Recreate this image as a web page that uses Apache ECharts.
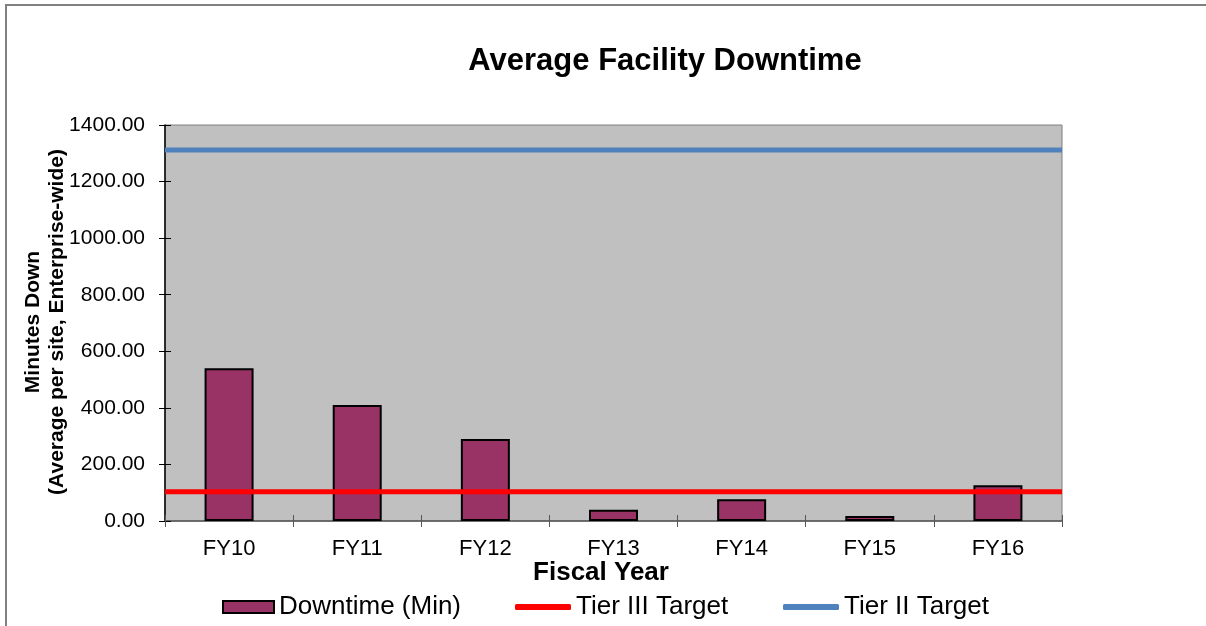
<!DOCTYPE html>
<html>
<head>
<meta charset="utf-8">
<script src="https://cdn.jsdelivr.net/npm/echarts@6/dist/echarts.min.js"></script>
<style>
html,body{margin:0;padding:0;background:#fff;}
#chart{width:1206px;height:626px;}
</style>
</head>
<body>
<div id="chart"></div>
<script>
const categories = ['FY10','FY11','FY12','FY13','FY14','FY15','FY16'];
const downtime = [540, 410, 290, 40, 77, 18, 126];
const tierIII = [103, 103, 103, 103, 103, 103, 103];
const tierII = [1312, 1312, 1312, 1312, 1312, 1312, 1312];
const yTicks = {min: 0, max: 1400, interval: 200};

const FONT = '"Liberation Sans", Arial, sans-serif';
const chart = echarts.init(document.getElementById('chart'));

const legendBase = {
  orient: 'horizontal', top: 594, itemGap: 0, padding: 0,
  textStyle: {fontFamily: FONT, fontSize: 26, color: '#000'}
};

chart.setOption({
  animation: false,
  backgroundColor: '#fff',
  textStyle: {fontFamily: FONT},
  graphic: [
    {type: 'rect', shape: {x: 6, y: 5, width: 1230, height: 660},
     style: {fill: 'none', stroke: '#808080', lineWidth: 2}, z: -1},
    {type: 'text', x: 665, y: 61,
     style: {text: 'Average Facility Downtime', fontFamily: FONT, fontSize: 31, fontWeight: 'bold',
             fill: '#000', textAlign: 'center', textVerticalAlign: 'middle'}},
    {type: 'text', x: 601, y: 573,
     style: {text: 'Fiscal Year', fontFamily: FONT, fontSize: 26, fontWeight: 'bold',
             fill: '#000', textAlign: 'center', textVerticalAlign: 'middle'}},
    {type: 'text', x: 45, y: 322, rotation: Math.PI / 2,
     style: {text: 'Minutes Down\n(Average per site, Enterprise-wide)', fontFamily: FONT, fontSize: 21,
             fontWeight: 'bold', lineHeight: 24, fill: '#000', textAlign: 'center', textVerticalAlign: 'middle'}}
  ],
  grid: {left: 165, top: 125, right: 144, bottom: 105, show: true,
         backgroundColor: '#C0C0C0', borderColor: '#808080', borderWidth: 1},
  legend: [
    Object.assign({}, legendBase, {data: [{name: 'Downtime (Min)', icon: 'rect'}], left: 222, itemWidth: 51, itemHeight: 12,
      itemStyle: {borderColor: '#000', borderWidth: 2}}),
    Object.assign({}, legendBase, {data: [{name: 'Tier III Target', icon: 'roundRect'}], left: 515, itemWidth: 56, itemHeight: 6,
      itemStyle: {color: '#FF0000', borderWidth: 0}}),
    Object.assign({}, legendBase, {data: [{name: 'Tier II Target', icon: 'roundRect'}], left: 783, itemWidth: 56, itemHeight: 6,
      itemStyle: {color: '#4F81BD', borderWidth: 0}})
  ],
  xAxis: [
    {type: 'category', data: categories, boundaryGap: true, position: 'bottom',
     axisLine: {show: true, lineStyle: {color: '#555', width: 1.5}},
     axisTick: {show: true, inside: false, length: 6, lineStyle: {color: '#555'}},
     axisLabel: {margin: 17, fontFamily: FONT, fontSize: 22, color: '#000'},
     splitLine: {show: false}},
    {type: 'category', data: categories, boundaryGap: false, show: false},
    {type: 'category', data: categories, boundaryGap: true, position: 'bottom',
     axisLine: {show: false},
     axisTick: {show: true, inside: true, length: 6, lineStyle: {color: '#555'}},
     axisLabel: {show: false}, splitLine: {show: false}}
  ],
  yAxis: [
    {type: 'value', min: yTicks.min, max: yTicks.max, interval: yTicks.interval,
     axisLine: {show: true, lineStyle: {color: '#000', width: 1.5}},
     axisTick: {show: true, inside: false, length: 6, lineStyle: {color: '#000'}},
     axisLabel: {margin: 20, fontFamily: FONT, fontSize: 21, color: '#000',
                 formatter: v => v.toFixed(2)},
     splitLine: {show: false}},
    {type: 'value', min: yTicks.min, max: yTicks.max, interval: yTicks.interval, position: 'left',
     axisLine: {show: false},
     axisTick: {show: true, inside: true, length: 6, lineStyle: {color: '#000'}},
     axisLabel: {show: false}, splitLine: {show: false}}
  ],
  series: [
    {name: 'Downtime (Min)', type: 'bar', data: downtime, barWidth: 49, z: 2,
     itemStyle: {color: '#993366', borderColor: '#000', borderWidth: 2}},
    {name: 'Tier III Target', type: 'line', xAxisIndex: 1, data: tierIII, symbol: 'none', z: 3,
     lineStyle: {color: '#FF0000', width: 5}, itemStyle: {color: '#FF0000'}},
    {name: 'Tier II Target', type: 'line', xAxisIndex: 1, data: tierII, symbol: 'none', z: 3,
     lineStyle: {color: '#4F81BD', width: 5}, itemStyle: {color: '#4F81BD'}}
  ]
});
</script>
</body>
</html>
